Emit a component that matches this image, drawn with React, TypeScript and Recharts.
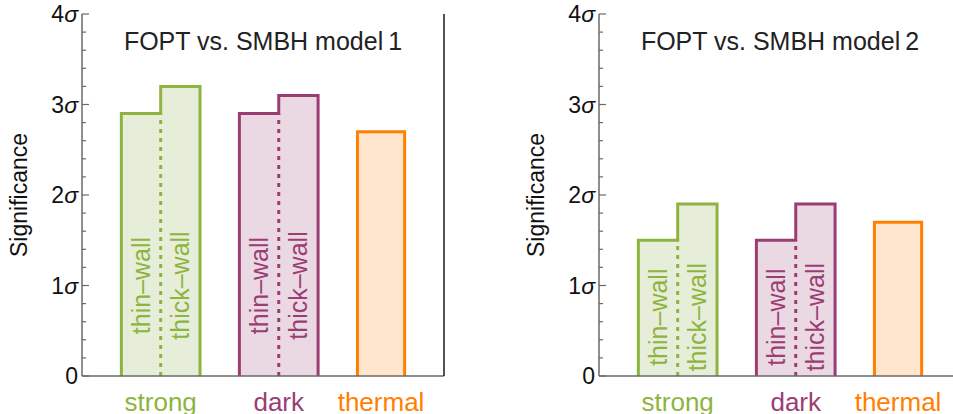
import React from "react";
import {
  ComposedChart,
  Area,
  Line,
  Scatter,
  XAxis,
  YAxis,
} from "recharts";

// ---------------- data ----------------
const categories = ["strong", "dark", "thermal"];
const wallLabels = ["thin\u2013wall", "thick\u2013wall"];

const model1Title = "FOPT vs. SMBH model\u20091";
const model1Thin = [2.9, 2.9]; // strong, dark
const model1Thick = [3.2, 3.1]; // strong, dark
const model1Thermal = 2.7;
const model1LabelCenter = 1.0;

const model2Title = "FOPT vs. SMBH model\u20092";
const model2Thin = [1.5, 1.5];
const model2Thick = [1.9, 1.9];
const model2Thermal = 1.7;
const model2LabelCenter = 0.65;

const yMajorTicks = [0, 1, 2, 3, 4];
const yTickLabels = ["0", "1", "2", "3", "4"];
const yAxisTitle = "Significance";

// ---------------- styles ----------------
const FONT = "'Liberation Sans', Arial, Helvetica, sans-serif";
const strokeColors = ["#8db43e", "#9b3d73", "#ff8000"];
const fillColors = ["#e6eed9", "#ead9e3", "#ffe5cc"];
const FRAME_GRAY = "#6a6a6a";
const FRAME_DARK = "#1a1a1a";

const CHART_W = 470;
const CHART_H = 432;
const Y_AXIS_W = 82;
const RIGHT_W = 26;
const X_AXIS_H = 56;
const TOP = 14;

// layout units along x: gap, bar, bar, gap, bar, bar, gap, wide bar, gap
const GAP = 1;
const BAR = 1;
const WIDE = 1.2;

type Pt = { x: number; y: number };

function buildChart(thin: number[], thick: number[], thermal: number, labelCenter: number) {
  const groups: { outline: Pt[]; divider: Pt[] | null; color: number }[] = [];
  const labels: { x: number; y: number; text: string; color: number }[] = [];
  const centers: number[] = [];
  let cur = GAP;
  for (let i = 0; i < thin.length; i++) {
    const x0 = cur;
    const x1 = cur + BAR;
    const x2 = cur + 2 * BAR;
    groups.push({
      outline: [
        { x: x0, y: 0 },
        { x: x0, y: thin[i] },
        { x: x1, y: thin[i] },
        { x: x1, y: thick[i] },
        { x: x2, y: thick[i] },
        { x: x2, y: 0 },
      ],
      divider: [
        { x: x1, y: 0 },
        { x: x1, y: thin[i] },
      ],
      color: i,
    });
    labels.push({ x: (x0 + x1) / 2, y: labelCenter, text: wallLabels[0], color: i });
    labels.push({ x: (x1 + x2) / 2, y: labelCenter, text: wallLabels[1], color: i });
    centers.push(x1);
    cur = x2 + GAP;
  }
  const t0 = cur;
  const t1 = cur + WIDE;
  groups.push({
    outline: [
      { x: t0, y: 0 },
      { x: t0, y: thermal },
      { x: t1, y: thermal },
      { x: t1, y: 0 },
    ],
    divider: null,
    color: 2,
  });
  centers.push((t0 + t1) / 2);
  const xMax = t1 + GAP;
  return { groups, labels, centers, xMax };
}

const allYTicks: number[] = [];
for (let i = 0; i < yMajorTicks.length; i++) {
  allYTicks.push(yMajorTicks[i]);
  if (i < yMajorTicks.length - 1) {
    const a = yMajorTicks[i];
    const b = yMajorTicks[i + 1];
    for (let k = 1; k < 5; k++) allYTicks.push(+(a + ((b - a) * k) / 5).toFixed(4));
  }
}
allYTicks.sort((a, b) => a - b);

const isMajor = (v: number) => yMajorTicks.some((m) => Math.abs(m - v) < 1e-6);

const LeftTick = (props: any) => {
  const { x, y, payload } = props;
  const v = payload.value;
  const major = isMajor(v);
  const idx = yMajorTicks.findIndex((m) => Math.abs(m - v) < 1e-6);
  return (
    <g>
      <line x1={x} x2={x + (major ? 7 : 4)} y1={y} y2={y} stroke={FRAME_GRAY} strokeWidth={1.2} />
      {major && (
        <text
          x={x - 4}
          y={y}
          dy="0.36em"
          textAnchor="end"
          fontFamily={FONT}
          fontSize={23}
          fill="#111"
        >
          {yTickLabels[idx]}
          {v !== 0 && <tspan fontStyle="italic">{"\u03c3"}</tspan>}
        </text>
      )}
    </g>
  );
};

const RightTick = (props: any) => {
  const { x, y, payload } = props;
  const major = isMajor(payload.value);
  return <line x1={x} x2={x - (major ? 7 : 4)} y1={y} y2={y} stroke={FRAME_GRAY} strokeWidth={1.2} />;
};

const makeXTick = (centers: number[]) => (props: any) => {
  const { x, y, payload } = props;
  const idx = centers.findIndex((c) => Math.abs(c - payload.value) < 1e-6);
  return (
    <text
      x={x}
      y={y}
      dy={35}
      textAnchor="middle"
      fontFamily={FONT}
      fontSize={26}
      fill={strokeColors[idx]}
    >
      {categories[idx]}
    </text>
  );
};

const WallLabel = (props: any) => {
  const { cx, cy, payload } = props;
  if (cx == null || cy == null) return null;
  return (
    <text
      x={cx}
      y={cy}
      dy="0.36em"
      textAnchor="middle"
      transform={`rotate(-90, ${cx}, ${cy})`}
      fontFamily={FONT}
      fontSize={25}
      fill={strokeColors[payload.color]}
    >
      {payload.text}
    </text>
  );
};

function Panel(props: {
  title: string;
  thin: number[];
  thick: number[];
  thermal: number;
  labelCenter: number;
}) {
  const { groups, labels, centers, xMax } = buildChart(
    props.thin,
    props.thick,
    props.thermal,
    props.labelCenter
  );
  const plotLeft = Y_AXIS_W;
  const plotRight = CHART_W - RIGHT_W;
  const XTick = makeXTick(centers);
  const midY = TOP + (CHART_H - X_AXIS_H - TOP) / 2;
  return (
    <ComposedChart
      width={CHART_W}
      height={CHART_H}
      margin={{ top: TOP, right: 0, bottom: 0, left: 0 }}
    >
      <XAxis
        dataKey="x"
        type="number"
        domain={[0, xMax]}
        ticks={centers}
        interval={0}
        tick={<XTick />}
        tickLine={false}
        tickSize={0}
        tickMargin={0}
        height={X_AXIS_H}
        axisLine={{ stroke: FRAME_GRAY, strokeWidth: 1.5 }}
        allowDataOverflow
      />
      <XAxis
        xAxisId="top"
        orientation="top"
        dataKey="x"
        type="number"
        domain={[0, xMax]}
        tick={false}
        tickLine={false}
        height={0}
        axisLine={{ stroke: FRAME_DARK, strokeWidth: 1.5 }}
      />
      <YAxis
        dataKey="y"
        type="number"
        domain={[0, 4]}
        ticks={allYTicks}
        interval={0}
        width={Y_AXIS_W}
        tick={<LeftTick />}
        tickLine={false}
        tickSize={0}
        tickMargin={0}
        axisLine={{ stroke: FRAME_GRAY, strokeWidth: 1.5 }}
        allowDataOverflow
      />
      <YAxis
        yAxisId="right"
        orientation="right"
        dataKey="y"
        type="number"
        domain={[0, 4]}
        ticks={allYTicks}
        interval={0}
        width={RIGHT_W}
        tick={<RightTick />}
        tickLine={false}
        tickSize={0}
        tickMargin={0}
        axisLine={{ stroke: FRAME_DARK, strokeWidth: 1.5 }}
      />
      {groups.map((g, i) => (
        <Area
          key={"a" + i}
          data={g.outline}
          dataKey="y"
          type="linear"
          baseValue={0}
          stroke={strokeColors[g.color]}
          strokeWidth={3}
          strokeLinejoin="miter"
          fill={fillColors[g.color]}
          fillOpacity={1}
          dot={false}
          activeDot={false}
          isAnimationActive={false}
        />
      ))}
      {groups.map((g, i) =>
        g.divider ? (
          <Line
            key={"d" + i}
            data={g.divider}
            dataKey="y"
            type="linear"
            stroke={strokeColors[g.color]}
            strokeWidth={3}
            strokeDasharray="4 5"
            dot={false}
            activeDot={false}
            isAnimationActive={false}
          />
        ) : null
      )}
      <Scatter
        data={labels}
        dataKey="y"
        shape={<WallLabel />}
        isAnimationActive={false}
      />
      <text
        x={(plotLeft + plotRight) / 2}
        y={50}
        textAnchor="middle"
        fontFamily={FONT}
        fontSize={25}
        fill="#222"
      >
        {props.title}
      </text>
      <text
        x={26.5}
        y={midY}
        textAnchor="middle"
        transform={`rotate(-90, 26.5, ${midY})`}
        fontFamily={FONT}
        fontSize={23}
        fill="#111"
      >
        {yAxisTitle}
      </text>
    </ComposedChart>
  );
}

export default function App() {
  return (
    <div
      style={{
        position: "absolute",
        left: 0,
        top: 0,
        width: 953,
        height: 414,
        overflow: "hidden",
        background: "#fff",
      }}
    >
      <div style={{ position: "absolute", left: 0, top: 0 }}>
        <Panel
          title={model1Title}
          thin={model1Thin}
          thick={model1Thick}
          thermal={model1Thermal}
          labelCenter={model1LabelCenter}
        />
      </div>
      <div style={{ position: "absolute", left: 517, top: 0 }}>
        <Panel
          title={model2Title}
          thin={model2Thin}
          thick={model2Thick}
          thermal={model2Thermal}
          labelCenter={model2LabelCenter}
        />
      </div>
    </div>
  );
}
